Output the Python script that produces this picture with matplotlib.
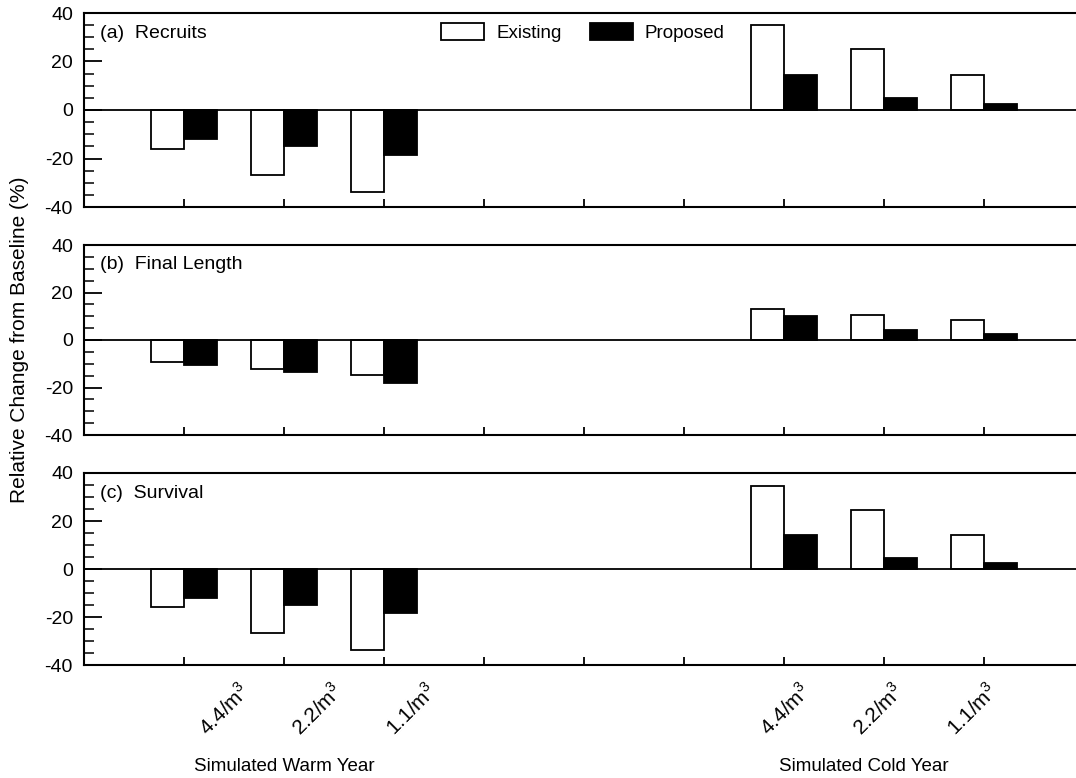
import numpy as np
import matplotlib
matplotlib.use('Agg')
import matplotlib.pyplot as plt
from matplotlib.ticker import MultipleLocator

plt.rcParams['font.family'] = ['Liberation Sans', 'DejaVu Sans']
plt.rcParams['font.size'] = 14
plt.rcParams['axes.unicode_minus'] = False

# density labels and group positions on the x axis
densidades = ['4.4/m$^\\mathregular{3}$', '2.2/m$^\\mathregular{3}$', '1.1/m$^\\mathregular{3}$']
pos_warm = [1, 2, 3]
pos_cold = [7, 8, 9]
series = ['Existing', 'Proposed']

# (a) Recruits
rec_exist = [-16, -27, -34, 35, 25, 14.5]
rec_prop = [-12, -15, -18.5, 14.5, 5, 2.5]
# (b) Final Length
len_exist = [-9.2, -12.3, -14.6, 13.1, 10.7, 8.3]
len_prop = [-10.6, -13.6, -18.2, 10.2, 4.4, 2.5]
# (c) Survival
sur_exist = [-16, -26.6, -33.9, 34.5, 24.5, 14.3]
sur_prop = [-11.9, -15.2, -18.5, 14.3, 4.6, 2.3]

paneles = ['(a)  Recruits', '(b)  Final Length', '(c)  Survival']
datos = [(rec_exist, rec_prop), (len_exist, len_prop), (sur_exist, sur_prop)]

W, H = 1076, 778
fig = plt.figure(figsize=(W / 100, H / 100), dpi=100)

# axes boxes in pixels (top, bottom)
cajas = [(13, 207), (245, 435), (473, 665)]
izq = 84
ancho = 1000

x = np.array(pos_warm + pos_cold, dtype=float)
bw = 0.33

axes = []
for i, ((top, bot), titulo, (ex, pr)) in enumerate(zip(cajas, paneles, datos)):
    ax = fig.add_axes([izq / W, 1 - bot / H, ancho / W, (bot - top) / H])
    ax.bar(x - bw / 2, ex, bw, color='white', edgecolor='black', linewidth=1.3, label=series[0], zorder=2)
    ax.bar(x + bw / 2, pr, bw, color='black', edgecolor='black', linewidth=1.3, label=series[1], zorder=2)
    ax.axhline(0, color='black', lw=1.3, zorder=3)
    ax.set_xlim(0, 10)
    ax.set_ylim(-40, 40)
    ax.yaxis.set_major_locator(MultipleLocator(20))
    ax.yaxis.set_minor_locator(MultipleLocator(5))
    ax.set_xticks(range(1, 10))
    ax.set_xticklabels([])
    ax.tick_params(axis='y', which='major', direction='in', length=13, width=1.3, pad=8, labelsize=14)
    ax.tick_params(axis='y', which='minor', direction='in', length=7, width=1.1)
    ax.tick_params(axis='x', which='major', direction='in', length=6, width=1.3)
    for s in ax.spines.values():
        s.set_linewidth(1.5)
    ax.text(0.016, 0.895, titulo, transform=ax.transAxes, fontsize=14, ha='left', va='center')
    if i == 0:
        ax.legend(ncol=2, frameon=False, loc='upper left', bbox_to_anchor=(0.34, 1.035),
                  handlelength=2.3, handleheight=1.0, columnspacing=1.5, handletextpad=0.65, fontsize=13.5)
    axes.append(ax)

# rotated density labels under the bottom panel
ax = axes[-1]
for k, lab in zip(pos_warm + pos_cold, densidades * 2):
    ax.text(0.465 + 0.935 * k, -0.23, lab, transform=ax.get_xaxis_transform(),
            rotation=45, ha='center', va='center', fontsize=15)

ax.text(2.0, -0.53, 'Simulated Warm Year', transform=ax.get_xaxis_transform(), ha='center', va='center', fontsize=13.5)
ax.text(7.8, -0.53, 'Simulated Cold Year', transform=ax.get_xaxis_transform(), ha='center', va='center', fontsize=13.5)

fig.text(20 / W, 1 - 340 / H, 'Relative Change from Baseline (%)', rotation=90, ha='center', va='center', fontsize=15)

fig.savefig('out.png', dpi=100)
